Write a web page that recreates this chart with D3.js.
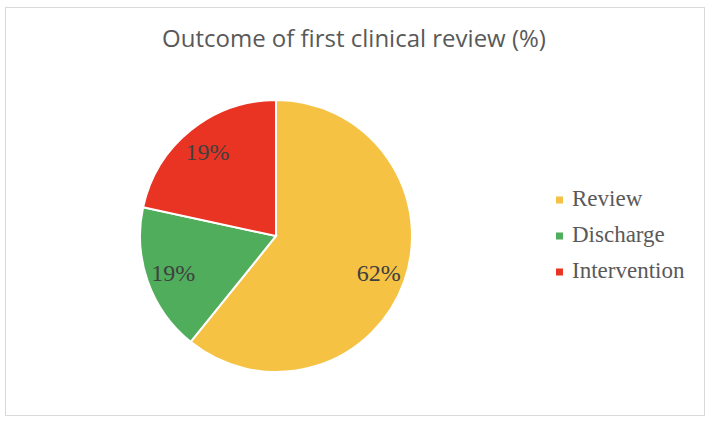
<!DOCTYPE html>
<html>
<head>
<meta charset="utf-8">
<script src="https://cdn.jsdelivr.net/npm/d3@7"></script>
<style>
  body { margin: 0; background: #fff; }
</style>
</head>
<body>
<div id="chart"></div>
<script>
// data
var categories = ["Review", "Discharge", "Intervention"];
var shares = [60.8, 17.6, 21.6];
var labelText = ["62%", "19%", "19%"];
var colors = ["#F5C243", "#4FAD5B", "#E93423"];
var title = "Outcome of first clinical review (%)";

var width = 710, height = 423;
var cx = 276, cy = 236, radius = 136;

var svg = d3.select("#chart").append("svg")
    .attr("width", width)
    .attr("height", height);

// chart frame
svg.append("rect")
    .attr("x", 5.5).attr("y", 7.5)
    .attr("width", 699).attr("height", 408)
    .attr("fill", "#fff")
    .attr("stroke", "#d9d9d9")
    .attr("stroke-width", 1);

svg.append("text")
    .attr("x", 354).attr("y", 47)
    .attr("text-anchor", "middle")
    .attr("font-family", "'Open Sans', sans-serif")
    .attr("font-size", 24)
    .attr("fill", "#595959")
    .text(title);

var data = categories.map(function(c, i) {
    return {name: c, value: shares[i], label: labelText[i], color: colors[i]};
});

var pie = d3.pie()
    .sort(null)
    .value(function(d) { return d.value; });

var arc = d3.arc().innerRadius(0).outerRadius(radius);
var labelArc = d3.arc().innerRadius(109).outerRadius(109);

var g = svg.append("g")
    .attr("transform", "translate(" + cx + "," + cy + ")");

var slices = g.selectAll("g.slice")
    .data(pie(data))
    .enter().append("g")
    .attr("class", "slice");

slices.append("path")
    .attr("d", arc)
    .attr("fill", function(d) { return d.data.color; })
    .attr("stroke", "#fff")
    .attr("stroke-width", 2);

slices.append("text")
    .attr("transform", function(d) { return "translate(" + labelArc.centroid(d) + ")"; })
    .attr("text-anchor", "middle")
    .attr("dy", "0.35em")
    .attr("font-family", "'Liberation Serif', 'Times New Roman', serif")
    .attr("font-size", 24)
    .attr("fill", "#404040")
    .text(function(d) { return d.data.label; });

// legend
var legend = svg.append("g")
    .attr("transform", "translate(556,200)");

var item = legend.selectAll("g")
    .data(data)
    .enter().append("g")
    .attr("transform", function(d, i) { return "translate(0," + (i * 36) + ")"; });

item.append("rect")
    .attr("x", 0).attr("y", -3.5)
    .attr("width", 7).attr("height", 7)
    .attr("fill", function(d) { return d.color; });

item.append("text")
    .attr("x", 16).attr("y", 6)
    .attr("font-family", "'Liberation Serif', 'Times New Roman', serif")
    .attr("font-size", 23)
    .attr("fill", "#595959")
    .text(function(d) { return d.name; });
</script>
</body>
</html>
